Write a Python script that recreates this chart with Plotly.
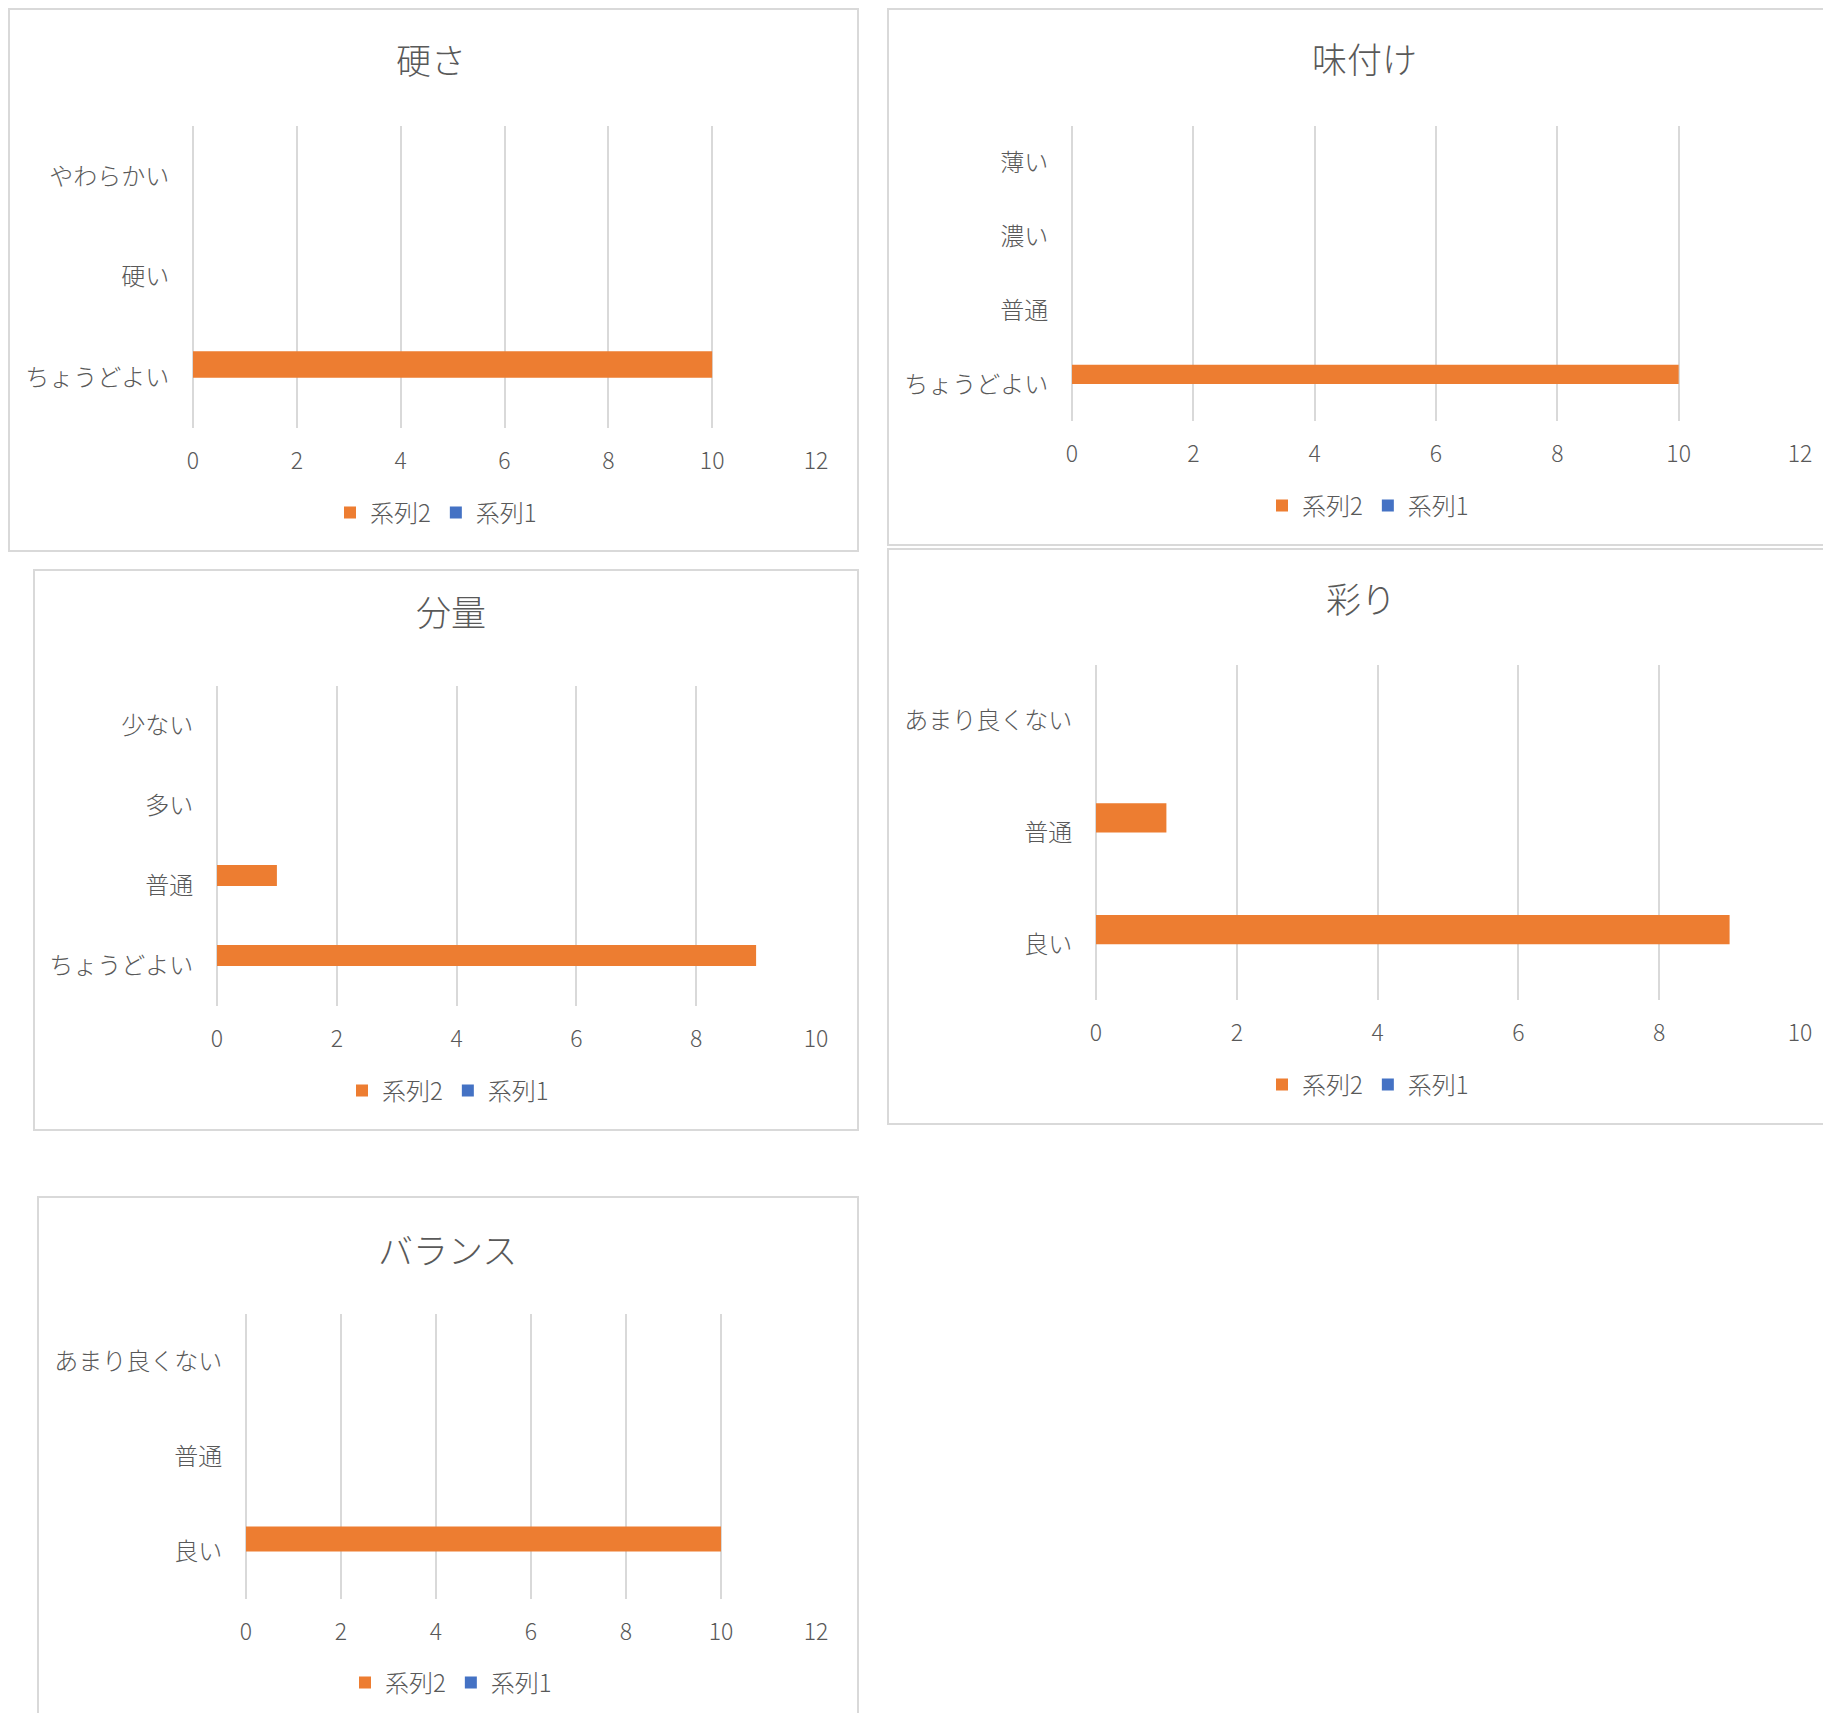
import plotly.graph_objects as go

W, H = 1823, 1713

# ---------------- data ----------------
series_names = ["系列1", "系列2"]

katasa_title = "硬さ"
katasa_cats = ["ちょうどよい", "硬い", "やわらかい"]
katasa_s1 = [0, 0, 0]
katasa_s2 = [10, 0, 0]
katasa_xmax = 12

ajitsuke_title = "味付け"
ajitsuke_cats = ["ちょうどよい", "普通", "濃い", "薄い"]
ajitsuke_s1 = [0, 0, 0, 0]
ajitsuke_s2 = [10, 0, 0, 0]
ajitsuke_xmax = 12

bunryo_title = "分量"
bunryo_cats = ["ちょうどよい", "普通", "多い", "少ない"]
bunryo_s1 = [0, 0, 0, 0]
bunryo_s2 = [9, 1, 0, 0]
bunryo_xmax = 10

irodori_title = "彩り"
irodori_cats = ["良い", "普通", "あまり良くない"]
irodori_s1 = [0, 0, 0]
irodori_s2 = [9, 1, 0]
irodori_xmax = 10

balance_title = "バランス"
balance_cats = ["良い", "普通", "あまり良くない"]
balance_s1 = [0, 0, 0]
balance_s2 = [10, 0, 0]
balance_xmax = 12

x_dtick = 2

# ---------------- layout (pixels) ----------------
panels = [
    dict(title=katasa_title, cats=katasa_cats, s1=katasa_s1, s2=katasa_s2, xmax=katasa_xmax,
         plot=(193, 816, 126, 428), border=(9, 858, 9, 551), tpos=(431, 58), lpos=(436, 513)),
    dict(title=ajitsuke_title, cats=ajitsuke_cats, s1=ajitsuke_s1, s2=ajitsuke_s2, xmax=ajitsuke_xmax,
         plot=(1072, 1800, 126, 421), border=(888, 1840, 9, 545), tpos=(1364, 57), lpos=(1368, 506)),
    dict(title=bunryo_title, cats=bunryo_cats, s1=bunryo_s1, s2=bunryo_s2, xmax=bunryo_xmax,
         plot=(217, 816, 686, 1006), border=(34, 858, 570, 1130), tpos=(451, 610), lpos=(448, 1091)),
    dict(title=irodori_title, cats=irodori_cats, s1=irodori_s1, s2=irodori_s2, xmax=irodori_xmax,
         plot=(1096, 1800, 665, 1000), border=(888, 1840, 549, 1124), tpos=(1361, 597), lpos=(1368, 1085)),
    dict(title=balance_title, cats=balance_cats, s1=balance_s1, s2=balance_s2, xmax=balance_xmax,
         plot=(246, 816, 1314, 1599), border=(38, 858, 1197, 1740), tpos=(447, 1248), lpos=(451, 1683)),
]

ORANGE = "#ED7D31"
BLUE = "#4472C4"
GRID = "#d9d9d9"
TEXT = "#595959"
FONT = "Noto Sans CJK JP"

fig = go.Figure()
layout = dict(
    width=W, height=H, autosize=False,
    margin=dict(l=0, r=0, t=0, b=0, pad=0),
    paper_bgcolor="white", plot_bgcolor="white",
    barmode="group", bargap=0.476, bargroupgap=0,
    font=dict(family=FONT, color=TEXT, size=24),
    shapes=[], annotations=[],
)

for i, p in enumerate(panels, start=1):
    sfx = "" if i == 1 else str(i)
    leg = "legend" if i == 1 else f"legend{i}"
    xa, ya = f"x{sfx}", f"y{sfx}"
    fig.add_trace(go.Bar(
        y=p["cats"], x=p["s1"], orientation="h", name=series_names[0],
        marker=dict(color=BLUE, line=dict(width=0)), xaxis=xa, yaxis=ya,
        legend=leg, showlegend=True, hoverinfo="x+y+name"))
    fig.add_trace(go.Bar(
        y=p["cats"], x=p["s2"], orientation="h", name=series_names[1],
        marker=dict(color=ORANGE, line=dict(width=0)), xaxis=xa, yaxis=ya,
        legend=leg, showlegend=True, hoverinfo="x+y+name"))

    px0, px1, py0, py1 = p["plot"]
    layout[f"xaxis{sfx}"] = dict(
        domain=[px0 / W, px1 / W], anchor=ya, range=[0, p["xmax"]], automargin=False,
        tick0=0, dtick=x_dtick, showgrid=True, gridcolor=GRID, gridwidth=1.5,
        zeroline=True, zerolinecolor=GRID, zerolinewidth=1.5, showline=False,
        ticks="outside", ticklen=12, tickcolor="rgba(0,0,0,0)",
        tickfont=dict(family=FONT, size=23, color=TEXT, weight=300), fixedrange=True)
    layout[f"yaxis{sfx}"] = dict(
        domain=[1 - py1 / H, 1 - py0 / H], anchor=xa, type="category", automargin=False,
        categoryorder="array", categoryarray=p["cats"],
        range=[-0.5, len(p["cats"]) - 0.5], showgrid=False, zeroline=False,
        showline=False, ticks="outside", ticklen=18, tickcolor="rgba(0,0,0,0)",
        tickfont=dict(family=FONT, size=24, color=TEXT, weight=300), fixedrange=True)
    lx, ly = p["lpos"]
    layout[leg] = dict(
        orientation="h", x=lx / W, y=1 - ly / H, xanchor="center", yanchor="middle",
        traceorder="reversed", bgcolor="rgba(0,0,0,0)", itemwidth=30,
        font=dict(family=FONT, size=24, color=TEXT, weight=300))

    bx0, bx1, by0, by1 = p["border"]
    layout["shapes"].append(dict(
        type="rect", xref="paper", yref="paper",
        x0=bx0 / W, x1=bx1 / W, y0=1 - by1 / H, y1=1 - by0 / H,
        line=dict(color=GRID, width=2), fillcolor="rgba(0,0,0,0)", layer="below"))
    tx, ty = p["tpos"]
    layout["annotations"].append(dict(
        text=p["title"], xref="paper", yref="paper", x=tx / W, y=1 - ty / H,
        xanchor="center", yanchor="middle", showarrow=False,
        font=dict(family=FONT, size=35, color=TEXT, weight=300)))

fig.update_layout(**layout)

fix_page = (
    "document.documentElement.style.margin='0';"
    "document.documentElement.style.padding='0';"
    "document.documentElement.style.overflow='hidden';"
    "document.body.style.margin='0';"
    "document.body.style.padding='0';"
    "document.body.style.overflow='hidden';"
    "var g=document.querySelector('.plotly-graph-div');"
    "if(g&&g.parentElement){g.parentElement.style.position='absolute';"
    "g.parentElement.style.left='0px';g.parentElement.style.top='0px';}"
)

fig.write_html("out.html", config=dict(displayModeBar=False), post_script=fix_page)
